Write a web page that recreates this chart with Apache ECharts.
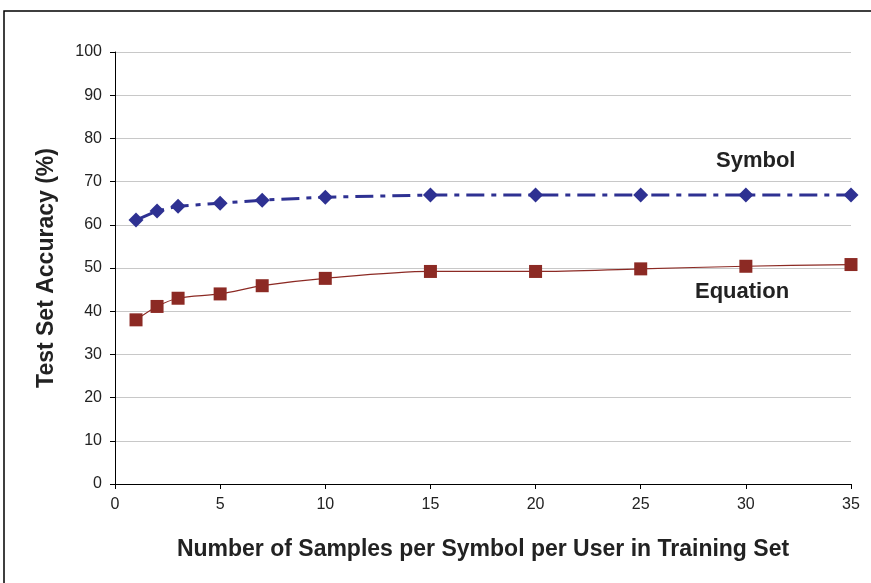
<!DOCTYPE html>
<html>
<head>
<meta charset="utf-8">
<script src="https://cdn.jsdelivr.net/npm/echarts@6/dist/echarts.min.js"></script>
<style>
  html, body { margin: 0; padding: 0; background: #fff; }
  #chart { width: 871px; height: 583px; }
</style>
</head>
<body>
<div id="chart"></div>
<script>
var samples = [1, 2, 3, 5, 7, 10, 15, 20, 25, 30, 35];
var symbolAcc = [61.1, 63.2, 64.3, 65.0, 65.7, 66.4, 66.9, 66.9, 66.9, 66.9, 66.9];
var equationAcc = [38.0, 41.1, 43.0, 44.0, 45.9, 47.6, 49.2, 49.2, 49.8, 50.4, 50.8];

function pairs(xs, ys) {
    return xs.map(function (x, i) { return [x, ys[i]]; });
}

var chart = echarts.init(document.getElementById('chart'));

var axisText = { color: '#222', fontSize: 16, fontFamily: 'Liberation Sans' };
var titleText = { color: '#222', fontSize: 23, fontWeight: 'bold', fontFamily: 'Liberation Sans' };

var option = {
    animation: false,
    grid: { left: 115, right: 20, top: 52, bottom: 99 },
    graphic: [
        {
            type: 'rect',
            shape: { x: 4, y: 11, width: 900, height: 600 },
            style: { fill: 'none', stroke: '#000', lineWidth: 1.5 },
            silent: true
        },
        {
            type: 'text', left: 716, top: 150,
            style: { text: 'Symbol', font: 'bold 22px "Liberation Sans"', fill: '#222' }
        },
        {
            type: 'text', left: 695, top: 281,
            style: { text: 'Equation', font: 'bold 22px "Liberation Sans"', fill: '#222' }
        }
    ],
    xAxis: {
        type: 'value',
        min: 0, max: 35, interval: 5,
        name: 'Number of Samples per Symbol per User in Training Set',
        nameLocation: 'middle',
        nameGap: 54,
        nameTextStyle: titleText,
        axisLine: { lineStyle: { color: '#000', width: 1 } },
        axisTick: { show: true, length: 5, lineStyle: { color: '#000' } },
        axisLabel: Object.assign({ margin: 13 }, axisText),
        splitLine: { show: false }
    },
    yAxis: {
        type: 'value',
        min: 0, max: 100, interval: 10,
        name: 'Test Set Accuracy (%)',
        nameLocation: 'middle',
        nameGap: 57,
        nameRotate: 90,
        nameTextStyle: titleText,
        axisLine: { show: true, lineStyle: { color: '#000', width: 1 } },
        axisTick: { show: true, length: 5, lineStyle: { color: '#000' } },
        axisLabel: Object.assign({ margin: 13 }, axisText),
        splitLine: { show: true, lineStyle: { color: '#c8c8c8', width: 1 } }
    },
    series: [
        {
            name: 'Symbol',
            type: 'line',
            data: pairs(samples, symbolAcc),
            symbol: 'diamond',
            symbolSize: 15,
            itemStyle: { color: '#2E3192' },
            lineStyle: { color: '#2E3192', width: 3, type: [18, 7, 5, 7] },
            z: 3
        },
        {
            name: 'Equation',
            type: 'line',
            data: pairs(samples, equationAcc),
            smooth: 0.3,
            symbol: 'rect',
            symbolSize: 13,
            itemStyle: { color: '#8C2A24' },
            lineStyle: { color: '#8C2A24', width: 1.2 },
            z: 2
        }
    ]
};

chart.setOption(option);
</script>
</body>
</html>
